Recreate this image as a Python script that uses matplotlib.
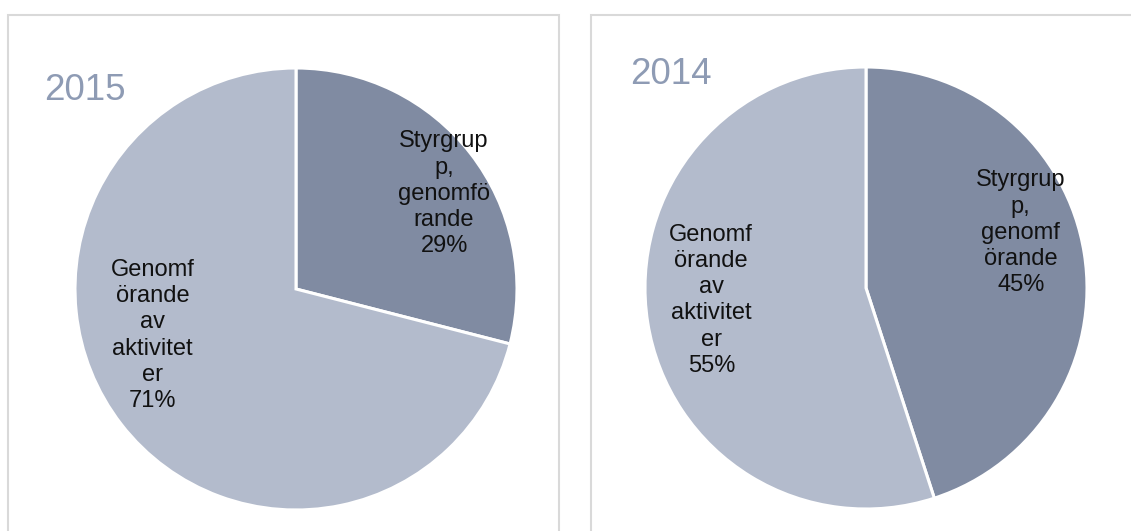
import matplotlib.pyplot as plt
from matplotlib.patches import Rectangle

plt.rcParams['font.family'] = ['Liberation Sans', 'DejaVu Sans']

years = ["2015", "2014"]
categories = ["Styrgrupp, genomförande", "Genomförande av aktiviteter"]
shares_2015 = [29, 71]
shares_2014 = [45, 55]
# category names as they wrap inside each pie
wrapped_2015 = ["Styrgrup\np,\ngenomfö\nrande", "Genomf\nörande\nav\naktivitet\ner"]
wrapped_2014 = ["Styrgrup\np,\ngenomf\nörande", "Genomf\nörande\nav\naktivitet\ner"]

colors = ["#808ba2", "#b3bbcc"]
W, H = 1131, 531


def px_axes(fig, x0, y0, w, h):
    # axes from pixel box measured from the top-left corner
    return fig.add_axes([x0 / W, (H - y0 - h) / H, w / W, h / H])


fig = plt.figure(figsize=(W / 100, H / 100), dpi=100)

# panel frames
for x0, x1 in [(8, 559), (591, 1140)]:
    fig.patches.append(Rectangle((x0 / W, -0.05), (x1 - x0) / W, (H - 15) / H + 0.05,
                                 transform=fig.transFigure, fill=False,
                                 edgecolor="#d9d9d9", linewidth=1.5))

panels = [
    (shares_2015, wrapped_2015, (296, 289), (44, 91), [(0.67, 0.43), (-0.65, -0.21)]),
    (shares_2014, wrapped_2014, (866, 288), (630, 74), [(0.70, 0.25), (-0.70, -0.055)]),
]
R = 221
for year, (shares, wrapped, (cx, cy), (tx, ty), label_pos) in zip(years, panels):
    ax = px_axes(fig, cx - R, cy - R, 2 * R, 2 * R)
    ax.pie(shares, colors=colors, startangle=90, counterclock=False,
           wedgeprops=dict(edgecolor="white", linewidth=2.2))
    ax.set_xlim(-1, 1)
    ax.set_ylim(-1, 1)
    ax.set_aspect("equal")
    ax.axis("off")
    for (lx, ly), name, val in zip(label_pos, wrapped, shares):
        ax.text(lx, ly, f"{name}\n{val}%", ha="center", va="center",
                fontsize=17, color="#111111", linespacing=1.25)
    fig.text(tx / W, 1 - ty / H, year, ha="left", va="center",
             fontsize=26.5, color="#8e9bb4")

fig.savefig("out.png", dpi=100)
